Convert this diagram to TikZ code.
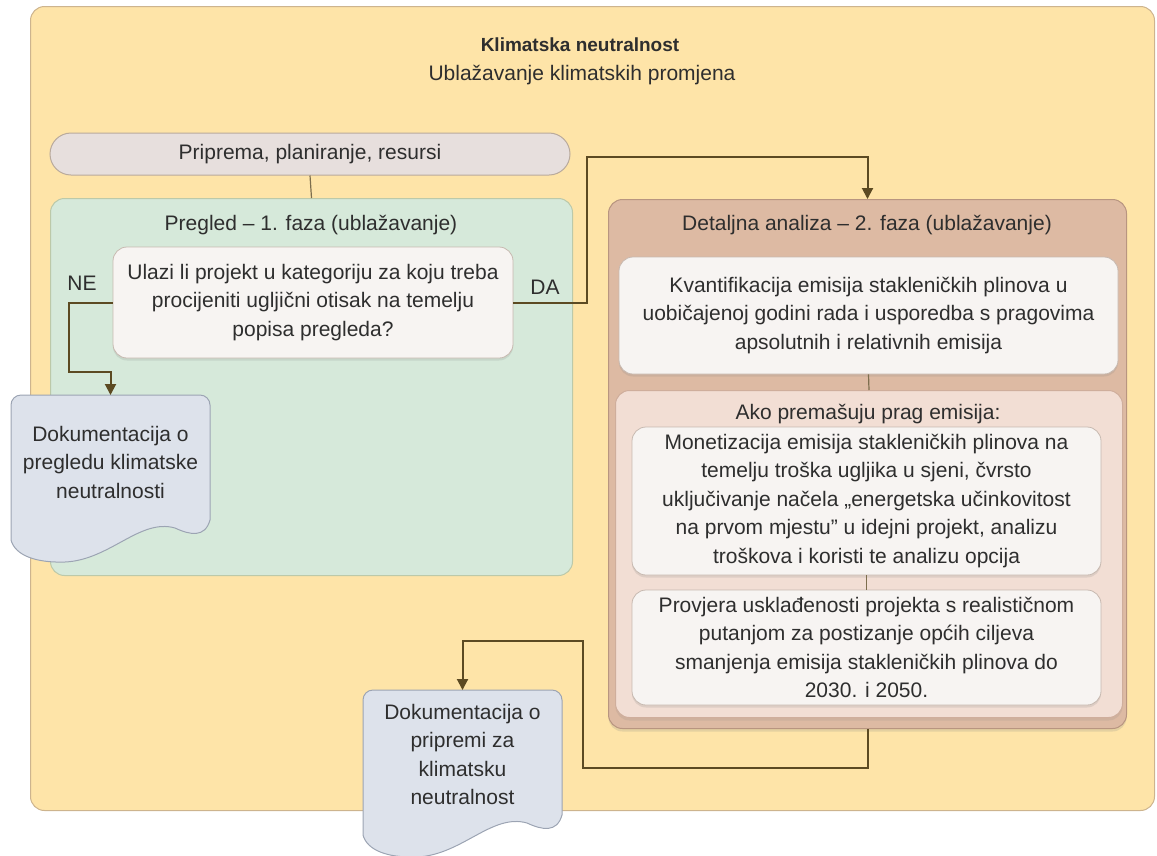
\documentclass[tikz,border=0pt]{standalone}
\usepackage{fontspec}
\setmainfont{Liberation Sans}
\usetikzlibrary{arrows.meta, positioning, calc, shadows}

\definecolor{outerfill}{HTML}{FEE4A8}
\definecolor{outerline}{HTML}{CDB48E}
\definecolor{greenfill}{HTML}{D6E9DA}
\definecolor{greenline}{HTML}{BCC9A9}
\definecolor{grayfill}{HTML}{E7DFDD}
\definecolor{grayline}{HTML}{B9AA9C}
\definecolor{brownfill}{HTML}{DDBAA3}
\definecolor{brownline}{HTML}{B89580}
\definecolor{pinkfill}{HTML}{F2DED4}
\definecolor{pinkline}{HTML}{CFAE9C}
\definecolor{boxfill}{HTML}{F7F4F2}
\definecolor{boxline}{HTML}{C7B9B0}
\definecolor{docfill}{HTML}{DDE2EB}
\definecolor{docline}{HTML}{9CA4B3}
\definecolor{flowline}{HTML}{5C4A22}
\definecolor{inkgray}{HTML}{2E2E2E}

\tikzset{
  every node/.style={font=\fontsize{21}{28.5}\selectfont, text=inkgray},
  panel/.style={rounded corners=14pt, line width=1pt, anchor=north west, inner sep=0pt},
  textbox/.style={draw=boxline, fill=boxfill, rounded corners=14pt, line width=0.8pt,
    align=center, inner sep=0pt,
    drop shadow={shadow xshift=0pt, shadow yshift=-2.5pt, opacity=0.18}},
  flow/.style={draw=flowline, line width=2pt},
  link/.style={draw=flowline!80, line width=1.2pt},
  flowtip/.style={-{Triangle[width=11pt,length=11pt]}},
  docpage/.pic={
    \filldraw[fill=docfill, draw=docline, line width=1pt, rounded corners=10pt]
      (0,145) -- (0,0) -- (199,0) [sharp corners] -- (199,125)
      .. controls (194,143) and (179,140) .. (164,133)
      .. controls (129,123) and (99,165) .. (54,167)
      .. controls (24,168) and (4,160) .. (0,145);
  }
}

\begin{document}
\begin{tikzpicture}[x=1pt, y=-1pt]
\useasboundingbox (0,0) rectangle (1157,855);

% okviri
\node[panel, draw=outerline, fill=outerfill, minimum width=1124pt, minimum height=804pt]
  (outer) at (30,6) {};
\node[panel, draw=greenline, fill=greenfill, minimum width=522pt, minimum height=377pt]
  (pregled) at (50,198) {};
\node[panel, draw=brownline, fill=brownfill, minimum width=518pt, minimum height=529pt,
  drop shadow={shadow xshift=0pt, shadow yshift=-3pt, opacity=0.2}]
  (detail) at (608,199) {};
\node[panel, draw=pinkline, fill=pinkfill, minimum width=507pt, minimum height=327pt,
  drop shadow={shadow xshift=0pt, shadow yshift=-3pt, opacity=0.15}]
  (ako) at (615,390) {};

\node[font=\fontsize{19}{26}\selectfont\bfseries] (title) at (580,45) {Klimatska neutralnost};
\node (subtitle) at (582,75) {Ublažavanje klimatskih promjena};

\node[draw=grayline, fill=grayfill, rounded corners=21pt, line width=1pt,
  minimum width=520pt, minimum height=42pt, inner sep=0pt] (priprema) at (310,154)
  {Priprema, planiranje, resursi};

\node (pregledtitle) at (311,225) {Pregled – 1. faza (ublažavanje)};
\node (detailtitle) at (867,225) {Detaljna analiza – 2. faza (ublažavanje)};
\node (akotitle) at (868,414) {Ako premašuju prag emisija:};

\node[textbox, minimum width=400pt, minimum height=111pt] (question) at (313,302.5)
  {Ulazi li projekt u kategoriju za koju treba\\procijeniti ugljični otisak na temelju\\popisa pregleda?};
\node (nelabel) at (82,283) {NE};
\node (dalabel) at (545,287) {DA};

\node[textbox, minimum width=499pt, minimum height=117pt] (kvant) at (868.5,315.5)
  {Kvantifikacija emisija stakleničkih plinova u\\uobičajenoj godini rada i usporedba s pragovima\\apsolutnih i relativnih emisija};
\node[textbox, minimum width=469pt, minimum height=148pt] (monet) at (866.5,501)
  {Monetizacija emisija stakleničkih plinova na\\temelju troška ugljika u sjeni, čvrsto\\uključivanje načela „energetska učinkovitost\\na prvom mjestu” u idejni projekt, analizu\\troškova i koristi te analizu opcija};
\node[textbox, minimum width=469pt, minimum height=115pt] (provjera) at (866.5,647.5)
  {Provjera usklađenosti projekta s realističnom\\putanjom za postizanje općih ciljeva\\smanjenja emisija stakleničkih plinova do\\2030. i 2050.};

% dokumenti
\pic at (11,395) {docpage};
\pic at (363,690) {docpage};
\node[align=center, anchor=north, minimum width=199pt, minimum height=134pt, inner sep=0pt]
  (doc1) at (110.5,395) {Dokumentacija o\\pregledu klimatske\\neutralnosti};
\node[align=center, anchor=north, minimum width=199pt, minimum height=129pt, inner sep=0pt]
  (doc2) at (462.5,690) {Dokumentacija o\\pripremi za\\klimatsku\\neutralnost};

% veze
\coordinate (nebend) at (69,372);
\coordinate (daup) at (587,157);
\coordinate (outbend) at (583,768);
\coordinate (outtop) at (583,641);

\draw[link] (priprema.south) -- (pregled.north);
\draw[link] (kvant.south) -- (ako.north);
\draw[link] (monet.south) -- (provjera.north);

\draw[flow, flowtip] (question.west) -| (nebend) -| (doc1.north);
\draw[flow, flowtip] (question.east) -| (daup) -| (detail.north);
\draw[flow, flowtip] (detail.south) |- (outbend) -- (outtop) -| (doc2.north);
\end{tikzpicture}
\end{document}
